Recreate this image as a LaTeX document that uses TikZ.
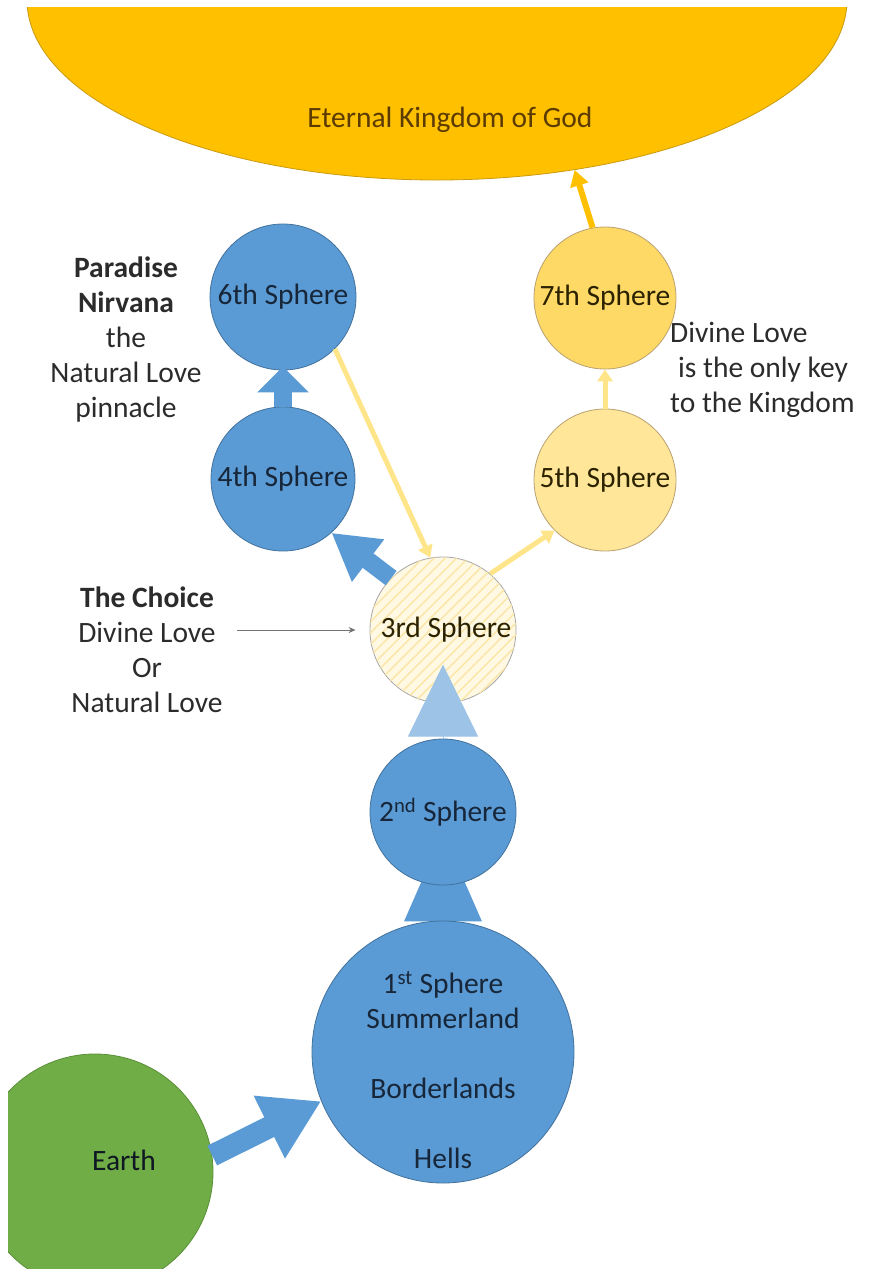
\documentclass[tikz,border=0pt]{standalone}
\usepackage{fontspec}
\setmainfont{Carlito}
\usetikzlibrary{arrows.meta,patterns.meta,shapes.geometric,backgrounds}
\definecolor{gold}{HTML}{FFC000}
\definecolor{golddark}{HTML}{C99A10}
\definecolor{sblue}{HTML}{5B9BD5}
\definecolor{sbluedark}{HTML}{41719C}
\definecolor{lblue}{HTML}{9DC3E6}
\definecolor{yseven}{HTML}{FFD966}
\definecolor{yfive}{HTML}{FFE699}
\definecolor{ythree}{HTML}{FFF9E3}
\definecolor{yhatch}{HTML}{FBE6A6}
\definecolor{yborder}{HTML}{B8A070}
\definecolor{yarrow}{HTML}{FFE58A}
\definecolor{egreen}{HTML}{70AD47}
\definecolor{egreendark}{HTML}{5A8F38}
\definecolor{txtblue}{HTML}{172638}
\definecolor{txtyellow}{HTML}{2B2200}
\definecolor{txtout}{HTML}{2B2B2B}
\definecolor{txtgod}{HTML}{5C3B00}
\begin{document}
\begin{tikzpicture}[x=1pt,y=-1pt,
  font=\fontsize{29.5}{35}\selectfont,
  bluesphere/.style={circle, inner sep=0pt, fill=sblue, draw=sbluedark, line width=0.8pt, text=txtblue},
  yellowsphere/.style={circle, inner sep=0pt, draw=yborder, line width=0.8pt, text=txtyellow},
  outtext/.style={text=txtout, align=center, inner sep=0pt},
  bigblue/.style={draw=sblue, line width=18pt, -{Triangle[width=50pt,length=26pt]}},
  yellowline/.style={draw=yarrow, line width=5pt, -{Triangle[width=15pt,length=12pt]}}
]
\useasboundingbox (0,0) rectangle (872,1275);
\begin{scope}
\clip (8,7) rectangle (866,1268);
\node[ellipse, fill=gold, draw=golddark, line width=0.8pt, minimum width=820pt, minimum height=360pt] (god) at (437,0) {};
\node[bluesphere, minimum size=236pt, fill=egreen, draw=egreendark] (earth) at (95,1172) {};
\end{scope}
\node[text=txtgod, inner sep=0pt] (godlabel) at (450,120) {Eternal Kingdom of God};
\node[text=txtblue!60!black, inner sep=0pt] (earthlabel) at (124,1160) {Earth};

% spheres
\node[bluesphere, minimum size=146pt] (s6) at (283,297) {6th Sphere};
\node[bluesphere, minimum size=144pt] (s4) at (283,479) {4th Sphere};
\node[yellowsphere, fill=yseven, minimum size=142pt] (s7) at (605,298) {7th Sphere};
\node[yellowsphere, fill=yfive, minimum size=142pt] (s5) at (605,480) {5th Sphere};
\node[yellowsphere, fill=ythree, draw=black!35, minimum size=146pt,
      postaction={pattern={Lines[angle=45,distance=8pt,line width=1.4pt]}, pattern color=yhatch}] (s3) at (443,630) {};
\node[text=txtyellow, inner sep=0pt] (s3label) at (446,630) {3rd Sphere};
\node[bluesphere, minimum size=146pt] (s2) at (443,812) {2\textsuperscript{nd} Sphere};
\node[bluesphere, minimum size=262pt] (s1) at (443,1052) {};
\node[text=txtblue, align=center, inner sep=0pt] (s1label) at (443,1070)
  {1\textsuperscript{st} Sphere\\Summerland\\[35pt]Borderlands\\[35pt]Hells};

% connector partly hidden behind spheres
\begin{scope}[on background layer]
\draw[draw=sblue, line width=26pt, -{Triangle[width=70pt,length=93pt]}] ([yshift=-30pt]s1.north) -- ([yshift=57pt]s2.south);
\end{scope}

% side texts
\node[outtext] (paradise) at (126,340) {\textbf{Paradise}\\\textbf{Nirvana}\\the\\Natural Love\\pinnacle};
\node[outtext] (choice) at (147,650) {\textbf{The Choice}\\Divine Love\\Or\\Natural Love};
\node[outtext, align=left, anchor=west] (divine) at (670,370) {Divine Love\\\hspace*{8pt}is the only key\\to the Kingdom};

% connectors
\draw[bigblue] (s4.north) -- ([yshift=4pt]s6.south);
\draw[bigblue, -{Triangle[width=50pt,length=46pt]}] (s3.135) -- (s4.-48);
\draw[draw=sblue, line width=22pt, -{Triangle[width=66pt,length=58pt]}] (earth.8) -- (s1.202);
\draw[draw=lblue, line width=1pt, -{Triangle[width=70pt,length=72pt]}] (s2.north) -- ([yshift=74pt]s2.north);
\draw[yellowline] (s6.-45) -- (s3.100);
\draw[yellowline] (s3.50) -- (s5.225);
\draw[yellowline] (s5.north) -- (s7.south);
\draw[draw=gold, line width=6pt, -{Triangle[width=18pt,length=16pt]}] (s7.100) -- (god.-51);
\coordinate (choicestart) at (237,630);
\draw[draw=black!55, line width=1pt, -{Stealth[length=7pt,width=6pt]}, shorten >=14pt] (choicestart) -- (s3.west);
\end{tikzpicture}
\end{document}
